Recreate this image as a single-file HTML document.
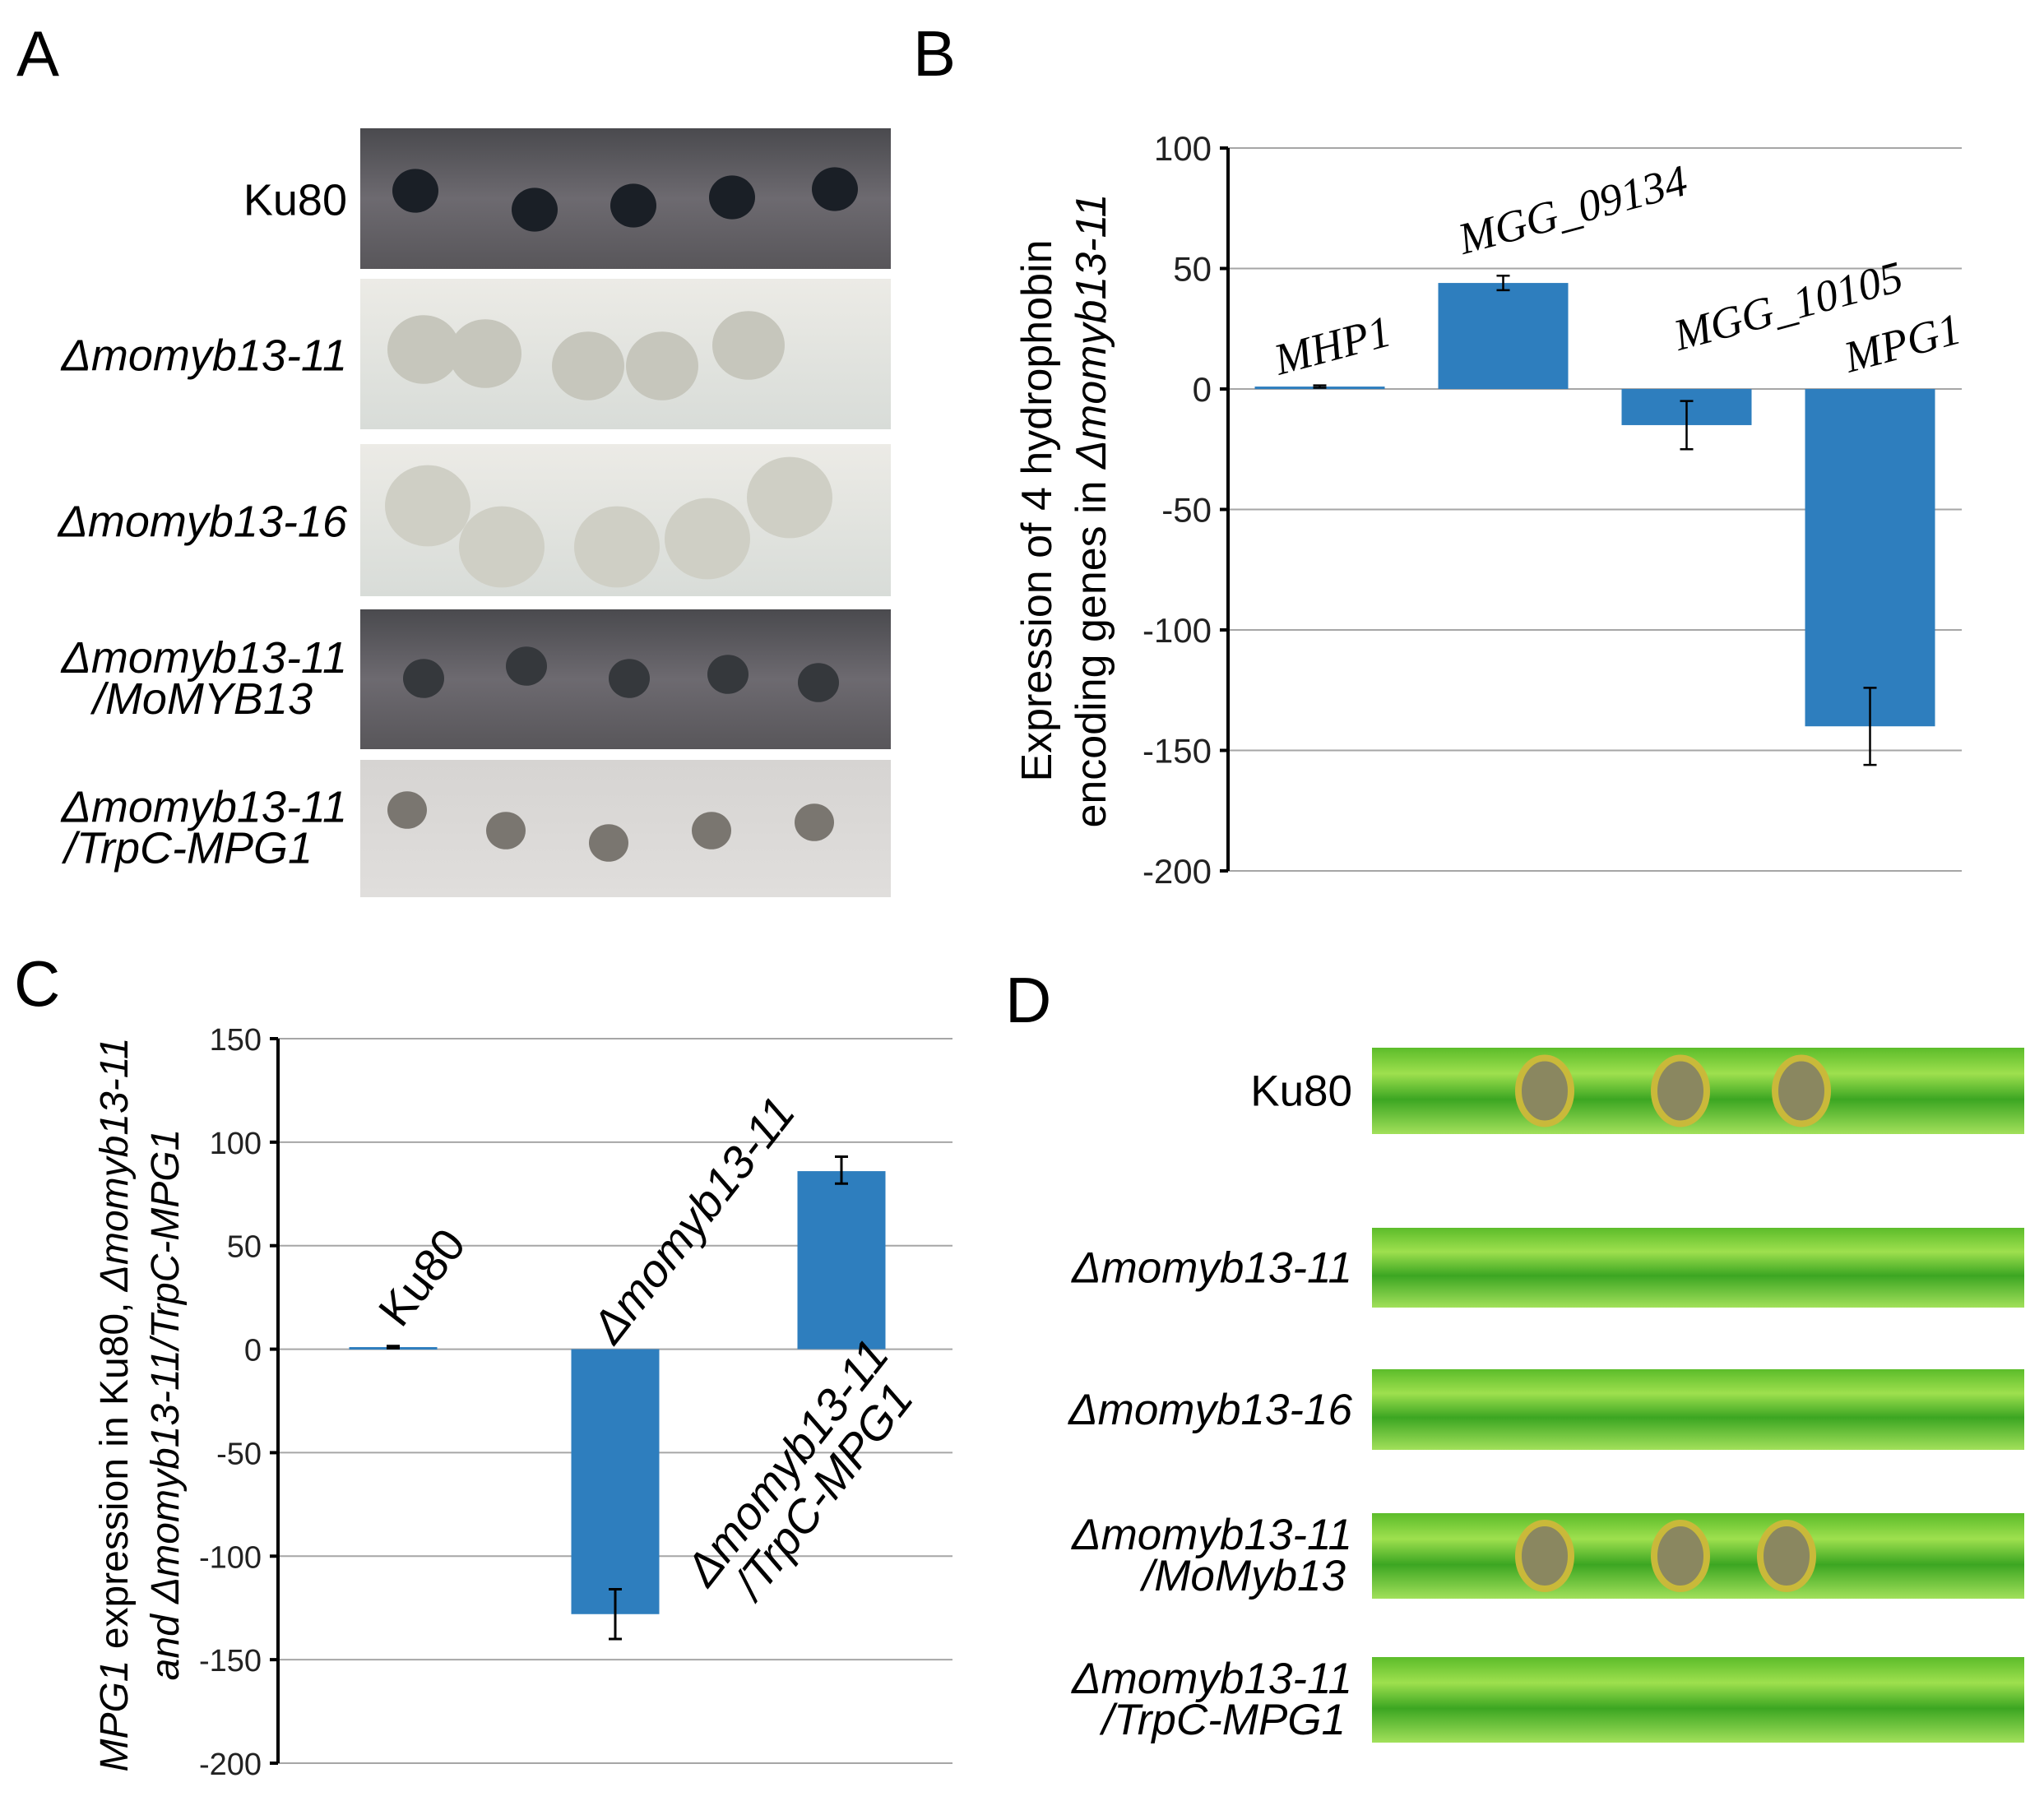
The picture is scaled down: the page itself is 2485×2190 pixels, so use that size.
<!DOCTYPE html>
<html><head><meta charset="utf-8"><style>
html,body{margin:0;padding:0;background:#fff;overflow:hidden;}
svg{display:block;font-family:"Liberation Sans",sans-serif;}
</style></head><body>
<svg id="fig" width="2485" height="2190" viewBox="0 0 2485 2190" xmlns="http://www.w3.org/2000/svg">
<defs>
<linearGradient id="dark" x1="0" y1="0" x2="0" y2="1"><stop offset="0" stop-color="#4a4a4e"/><stop offset="0.5" stop-color="#6d6a70"/><stop offset="1" stop-color="#58565a"/></linearGradient>
<linearGradient id="light" x1="0" y1="0" x2="0" y2="1"><stop offset="0" stop-color="#ecebe6"/><stop offset="1" stop-color="#d8dcd8"/></linearGradient>
<linearGradient id="grey" x1="0" y1="0" x2="0" y2="1"><stop offset="0" stop-color="#d6d4d2"/><stop offset="1" stop-color="#e0dedc"/></linearGradient>
<linearGradient id="leaf" x1="0" y1="0" x2="0" y2="1"><stop offset="0" stop-color="#5cbc2a"/><stop offset="0.3" stop-color="#9ee04e"/><stop offset="0.6" stop-color="#3ca622"/><stop offset="1" stop-color="#a2e05a"/></linearGradient>
</defs>
<g font-size="78">
<text x="20" y="92">A</text>
<text x="1110" y="92">B</text>
<text x="17" y="1223">C</text>
<text x="1222" y="1243">D</text>
</g>
<g id="panelA"></g>
<g id="panelB"></g>
<g id="panelC"></g>
<g id="panelD"></g>
</svg>
<script>
// Panel B data
const bCategories = ["MHP1", "MGG_09134", "MGG_10105", "MPG1"];
const bValues = [1, 44, -15, -140];
const bErrLow = [0.5, 41, -25, -156];
const bErrHigh = [1.5, 47, -5, -124];
const bTicks = [100, 50, 0, -50, -100, -150, -200];
// Panel C data
const cCategories = ["Ku80", "Δmomyb13-11", "Δmomyb13-11/TrpC-MPG1"];
const cValues = [1, -128, 86];
const cErrLow = [0.5, -140, 80];
const cErrHigh = [1.5, -116, 93];
const cTicks = [150, 100, 50, 0, -50, -100, -150, -200];

const NS = "http://www.w3.org/2000/svg";
function mk(parent, tag, attrs, text) {
  const e = document.createElementNS(NS, tag);
  for (const k in attrs) e.setAttribute(k, attrs[k]);
  if (text !== undefined) e.textContent = text;
  parent.appendChild(e);
  return e;
}

// ---------- Panel B ----------
(function () {
  const g = document.getElementById('panelB');
  const x0 = 1493, x1 = 2385, yTop = 180, yBot = 1059, vMax = 100, vMin = -200;
  const y = v => yTop + (vMax - v) / (vMax - vMin) * (yBot - yTop);
  const band = (x1 - x0) / bCategories.length;
  const bw = 158;
  const labelLayout = [[1620, 420], [1912, 255], [2174, 372], [2313, 417]];
  bTicks.forEach(t => {
    const l = mk(g, 'line', {x1: x0, x2: x1, y1: y(t), y2: y(t), stroke: '#a6a6a6', 'stroke-width': 2});
    
    
    const tk = mk(g, 'line', {x1: x0 - 10, x2: x0, y1: y(t), y2: y(t), stroke: '#000', 'stroke-width': 4});
    
    
    const lb = mk(g, 'text', {x: x0 - 20, y: y(t) + 15, 'text-anchor': 'end', 'font-size': 42, fill: '#222'}, String(t));
    
    
  });
  bCategories.forEach((c, i) => {
    const cx = x0 + band * (i + 0.5);
    const v = bValues[i];
    const r = mk(g, 'rect', {x: cx - bw / 2, y: Math.min(y(v), y(0)), width: bw, height: Math.max(3, Math.abs(y(v) - y(0))), fill: '#2e7ebe'});
    
    
    const eb = mk(g, 'path', {d: `M${cx} ${y(bErrLow[i])}V${y(bErrHigh[i])}M${cx - 8} ${y(bErrLow[i])}H${cx + 8}M${cx - 8} ${y(bErrHigh[i])}H${cx + 8}`, stroke: '#000', 'stroke-width': 2.5, fill: 'none'});
    
    
    const lx = labelLayout[i][0];
    const ly = labelLayout[i][1];
    const lt = mk(g, 'text', {x: lx, y: ly + 18, 'text-anchor': 'middle', 'font-size': 54, 'font-style': 'italic', 'font-family': '"Liberation Serif",serif', transform: `rotate(-15 ${lx} ${ly})`}, c);
    
    
  });
  const ax = mk(g, 'line', {x1: x0, x2: x0, y1: yTop, y2: yBot, stroke: '#000', 'stroke-width': 4});
  
  
  const t = mk(g, 'text', {transform: 'translate(1278 621) rotate(-90)', 'text-anchor': 'middle', 'font-size': 52});
  
  
  mk(t, 'tspan', {x: 0, y: 0}, 'Expression of 4 hydrophobin');
  mk(t, 'tspan', {x: 0, y: 66}, 'encoding genes in ');
  mk(t, 'tspan', {'font-style': 'italic'}, 'Δmomyb13-11');
})();

// ---------- Panel C ----------
(function () {
  const g = document.getElementById('panelC');
  const x0 = 338, x1 = 1158, yTop = 1263, yBot = 2144, vMax = 150, vMin = -200;
  const y = v => yTop + (vMax - v) / (vMax - vMin) * (yBot - yTop);
  const centers = [478, 748, 1023];
  const bw = 107;
  cTicks.forEach(t => {
    const l = mk(g, 'line', {x1: x0, x2: x1, y1: y(t), y2: y(t), stroke: '#a6a6a6', 'stroke-width': 2});
    
    
    const tk = mk(g, 'line', {x1: x0 - 10, x2: x0, y1: y(t), y2: y(t), stroke: '#000', 'stroke-width': 4});
    
    
    const lb = mk(g, 'text', {x: x0 - 20, y: y(t) + 14, 'text-anchor': 'end', 'font-size': 38, fill: '#222'}, String(t));
    
    
  });
  cCategories.forEach((c, i) => {
    const cx = centers[i];
    const v = cValues[i];
    const r = mk(g, 'rect', {x: cx - bw / 2, y: Math.min(y(v), y(0)), width: bw, height: Math.max(3, Math.abs(y(v) - y(0))), fill: '#2e7ebe'});
    
    
    const eb = mk(g, 'path', {d: `M${cx} ${y(cErrLow[i])}V${y(cErrHigh[i])}M${cx - 8} ${y(cErrLow[i])}H${cx + 8}M${cx - 8} ${y(cErrHigh[i])}H${cx + 8}`, stroke: '#000', 'stroke-width': 3, fill: 'none'});
    
    
  });
  const l1 = mk(g, 'text', {transform: 'translate(528 1565) rotate(-52)', 'text-anchor': 'middle', 'font-size': 56}, cCategories[0]);
  
  
  const l2 = mk(g, 'text', {transform: 'translate(858 1495) rotate(-52)', 'text-anchor': 'middle', 'font-size': 56, 'font-style': 'italic'}, cCategories[1]);
  
  
  const l3 = mk(g, 'text', {transform: 'translate(972 1790) rotate(-52)', 'text-anchor': 'middle', 'font-size': 56, 'font-style': 'italic'});
  
  
  mk(l3, 'tspan', {x: 0, y: 0}, 'Δmomyb13-11');
  mk(l3, 'tspan', {x: 0, y: 56}, '/TrpC-MPG1');
  const ax = mk(g, 'line', {x1: x0, x2: x0, y1: yTop, y2: yBot, stroke: '#000', 'stroke-width': 4});
  
  
  const t = mk(g, 'text', {transform: 'translate(155 1708) rotate(-90)', 'text-anchor': 'middle', 'font-size': 48});
  
  
  const s1 = mk(t, 'tspan', {x: 0, y: 0});
  mk(s1, 'tspan', {'font-style': 'italic'}, 'MPG1');
  mk(s1, 'tspan', {}, ' expression in Ku80, ');
  mk(s1, 'tspan', {'font-style': 'italic'}, 'Δmomyb13-11');
  const s2 = mk(t, 'tspan', {x: 0, y: 62});
  mk(s2, 'tspan', {'font-style': 'italic'}, 'and Δmomyb13-11/TrpC-MPG1');
})();

// ---------- Panel A (photos) ----------
(function () {
  const g = document.getElementById('panelA');
  const rows = [
    {y: 156, h: 171, fill: 'url(#dark)', lab: ['Ku80'], it: false, spot: '#1a1f26', spots: [[505,232],[650,255],[770,250],[890,240],[1015,230]], r: 28},
    {y: 339, h: 183, fill: 'url(#light)', lab: ['Δmomyb13-11'], it: true, spot: '#c6c6bc', spots: [[515,425],[590,430],[715,445],[805,445],[910,420]], r: 44},
    {y: 540, h: 185, fill: 'url(#light)', lab: ['Δmomyb13-16'], it: true, spot: '#cfcfc5', spots: [[520,615],[610,665],[750,665],[860,655],[960,605]], r: 52},
    {y: 741, h: 170, fill: 'url(#dark)', lab: ['Δmomyb13-11', '/MoMYB13'], it: true, spot: '#35383c', spots: [[515,825],[640,810],[765,825],[885,820],[995,830]], r: 25},
    {y: 924, h: 167, fill: 'url(#grey)', lab: ['Δmomyb13-11', '/TrpC-MPG1'], it: true, spot: '#7a7670', spots: [[495,985],[615,1010],[740,1025],[865,1010],[990,1000]], r: 24}
  ];
  rows.forEach((r, i) => {
    const rc = mk(g, 'rect', {x: 438, y: r.y, width: 645, height: r.h, fill: r.fill});
    
    
    r.spots.forEach(s => {
      const c = mk(g, 'ellipse', {cx: s[0], cy: s[1], rx: r.r, ry: r.r * 0.95, fill: r.spot});
      
      
    });
    const cy = r.y + r.h / 2;
    const t = mk(g, 'text', {x: 422, y: r.lab.length === 1 ? cy + 20 : cy - 8, 'text-anchor': 'end', 'font-size': 54, 'font-style': r.it ? 'italic' : 'normal'});
    
    
    r.lab.forEach((s, k) => mk(t, 'tspan', {x: k ? 380 : 422, dy: k ? 50 : 0}, s));
  });
})();

// ---------- Panel D (leaves) ----------
(function () {
  const g = document.getElementById('panelD');
  const rows = [
    {y: 1274, h: 105, lab: ['Ku80'], it: false, les: [1878, 2043, 2190]},
    {y: 1493, h: 97, lab: ['Δmomyb13-11'], it: true, les: []},
    {y: 1665, h: 98, lab: ['Δmomyb13-16'], it: true, les: []},
    {y: 1840, h: 104, lab: ['Δmomyb13-11', '/MoMyb13'], it: true, les: [1878, 2043, 2172]},
    {y: 2015, h: 104, lab: ['Δmomyb13-11', '/TrpC-MPG1'], it: true, les: []}
  ];
  rows.forEach((r, i) => {
    const lf = mk(g, 'rect', {x: 1668, y: r.y, width: 793, height: r.h, fill: 'url(#leaf)'});
    
    
    r.les.forEach(x => {
      const e = mk(g, 'ellipse', {cx: x, cy: r.y + r.h / 2, rx: 32, ry: 40, fill: '#8a8760', stroke: '#c9b93a', 'stroke-width': 8});
      
      
    });
    const cy = r.y + r.h / 2;
    const t = mk(g, 'text', {x: 1644, y: r.lab.length === 1 ? cy + 18 : cy - 8, 'text-anchor': 'end', 'font-size': 53, 'font-style': r.it ? 'italic' : 'normal'});
    
    
    r.lab.forEach((s, k) => mk(t, 'tspan', {x: k ? 1636 : 1644, dy: k ? 50 : 0}, s));
  });
})();
</script>
</body></html>
